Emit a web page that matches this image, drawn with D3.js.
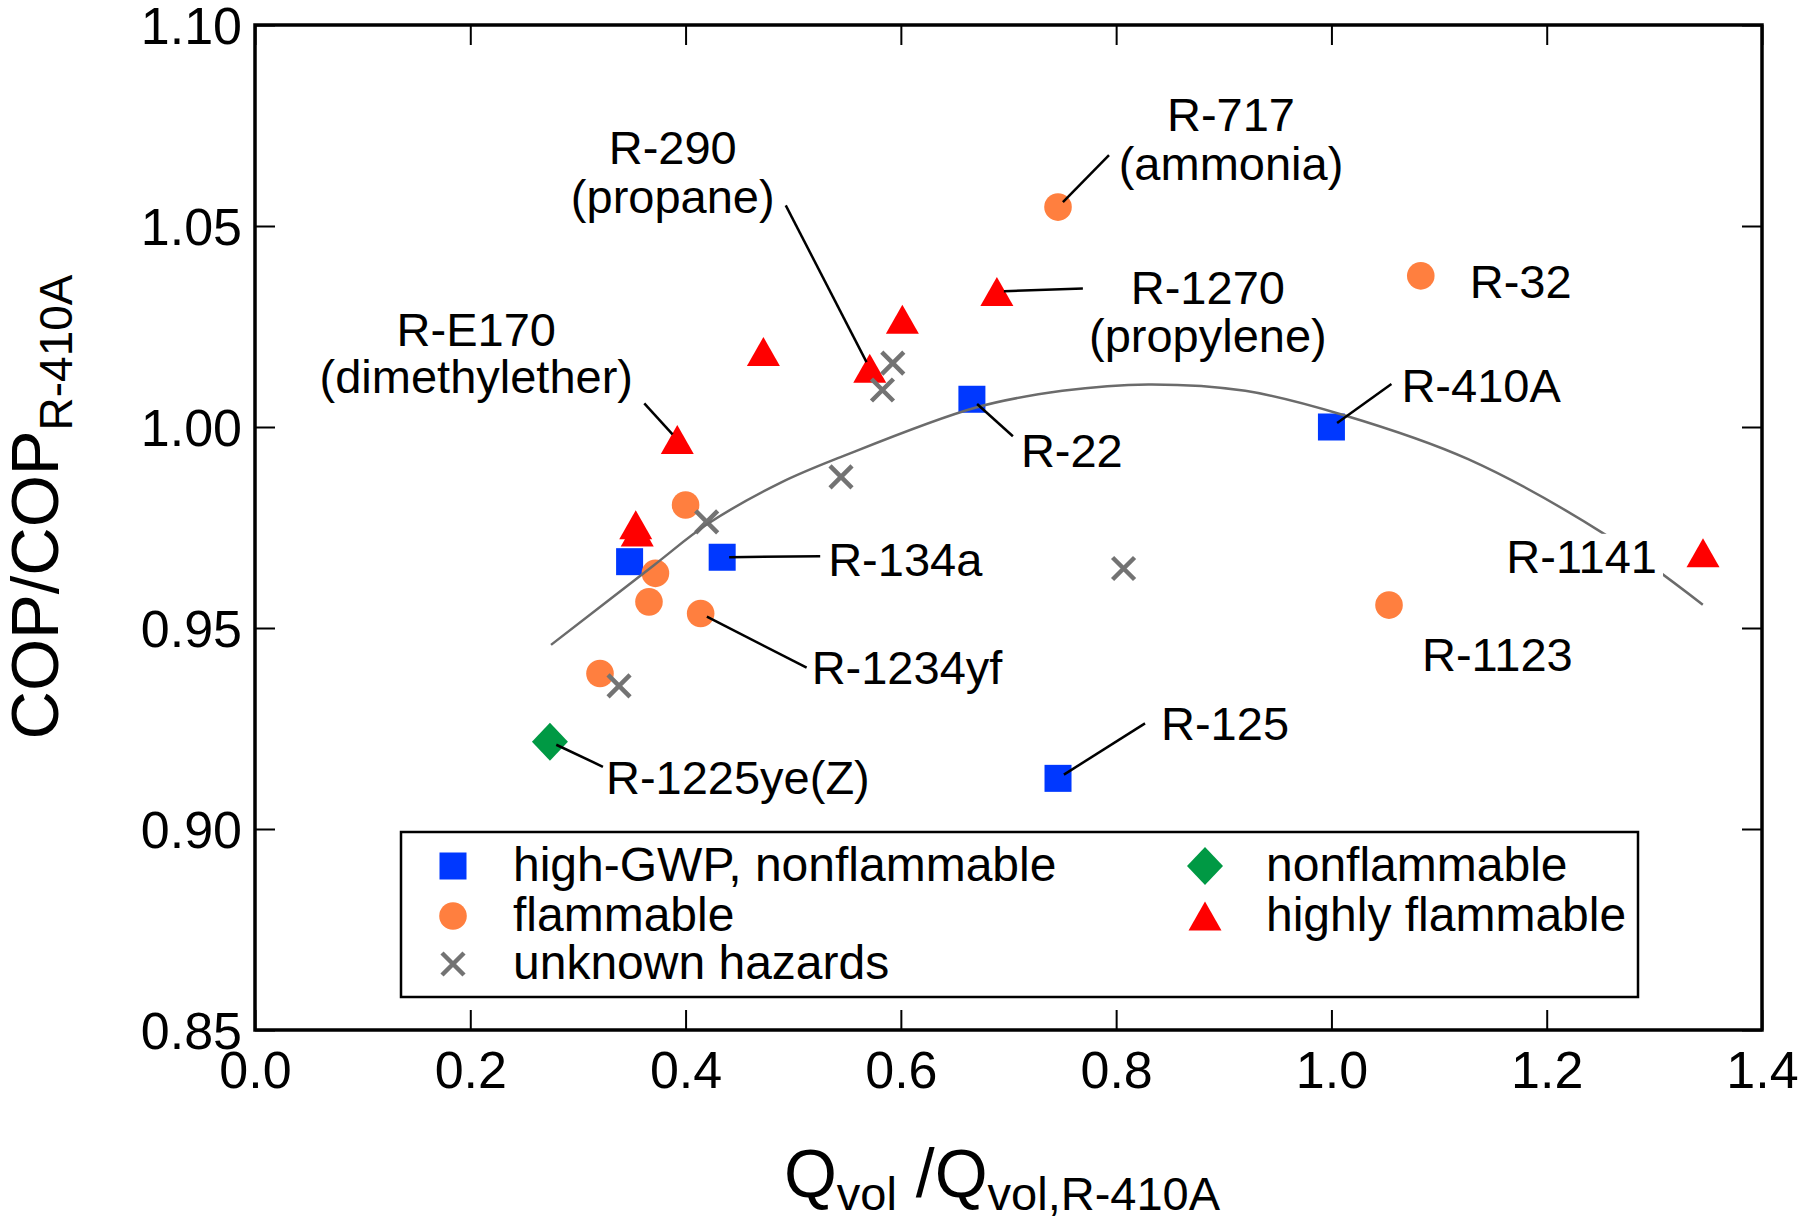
<!DOCTYPE html>
<html><head><meta charset="utf-8">
<script src="https://cdn.jsdelivr.net/npm/d3@7"></script>
<style>
body{margin:0;background:#fff;}
svg{display:block;}
text{font-family:"Liberation Sans",Arial,Helvetica,sans-serif;fill:#000;}
</style>
</head><body>
<svg id="chart" width="1800" height="1220"></svg>
<script>
// ---------- data ----------
const xTicks = [0.0, 0.2, 0.4, 0.6, 0.8, 1.0, 1.2, 1.4];
const yTicks = [0.85, 0.90, 0.95, 1.00, 1.05, 1.10];

const categories = ["high-GWP, nonflammable", "flammable", "unknown hazards", "nonflammable", "highly flammable"];

const highGwpNames = ["R-22", "R-410A", "R-134a", "", "R-125"];
const highGwpX     = [0.666, 1.000, 0.434, 0.348, 0.746];
const highGwpY     = [1.0069, 1.0000, 0.9676, 0.9665, 0.9126];

const flammableNames = ["R-717", "R-32", "", "", "", "R-1234yf", "", "R-1123"];
const flammableX     = [0.746, 1.083, 0.400, 0.372, 0.366, 0.414, 0.3205, 1.0535];
const flammableY     = [1.0547, 1.0376, 0.9806, 0.9636, 0.9565, 0.9536, 0.9387, 0.9557];

const unknownNames = ["", "", "", "", "", ""];
const unknownX     = [0.5925, 0.5829, 0.5444, 0.4196, 0.8069, 0.3382];
const unknownY     = [1.0159, 1.0092, 0.9876, 0.9764, 0.9648, 0.9356];

const nonflamNames = ["R-1225ye(Z)"];
const nonflamX     = [0.274];
const nonflamY     = [0.9217];

const highlyNames = ["R-1270", "", "", "R-290", "R-E170", "", "", "R-1141"];
const highlyX     = [0.6892, 0.6014, 0.4723, 0.5711, 0.3923, 0.3537, 0.3551, 1.3452];
const highlyY     = [1.0337, 1.0268, 1.0188, 1.0146, 0.9969, 0.9757, 0.9739, 0.9687];

// fitted trend curve
const curveX = [0.275, 0.37, 0.42, 0.488, 0.544, 0.669, 0.75, 0.83, 0.92, 1.011, 1.127, 1.257, 1.345];
const curveY = [0.9458, 0.9655, 0.9758, 0.9861, 0.9925, 1.0048, 1.0090, 1.0106, 1.0090, 1.0030, 0.9920, 0.9728, 0.9558];

// ---------- styling / layout ----------
const seriesStyle = [
  {names: highGwpNames,   xs: highGwpX,   ys: highGwpY,   type: "square",   color: "#0038ff"},
  {names: flammableNames, xs: flammableX, ys: flammableY, type: "circle",   color: "#ff7f3f"},
  {names: highlyNames,    xs: highlyX,    ys: highlyY,    type: "triangle", color: "#ff0000"},
  {names: nonflamNames,   xs: nonflamX,   ys: nonflamY,   type: "diamond",  color: "#009944"},
  {names: unknownNames,   xs: unknownX,   ys: unknownY,   type: "cross",    color: "#737373"}
];
const legendOrder = [
  {cat: 0, type: "square",   color: "#0038ff", col: 0, row: 0},
  {cat: 1, type: "circle",   color: "#ff7f3f", col: 0, row: 1},
  {cat: 2, type: "cross",    color: "#737373", col: 0, row: 2},
  {cat: 3, type: "diamond",  color: "#009944", col: 1, row: 0},
  {cat: 4, type: "triangle", color: "#ff0000", col: 1, row: 1}
];

// label offsets in pixels relative to the marked point
const annotations = [
  {name: "R-717",  lines: ["R-717", "(ammonia)"],        anchor: "middle", dx: 173, dy: [-76, -27], leader: [51, -52]},
  {name: "R-32",   lines: ["R-32"],                      anchor: "start",  dx: 49,  dy: [22]},
  {name: "R-1270", lines: ["R-1270", "(propylene)"],     anchor: "middle", dx: 211, dy: [12, 60], leader: [86, -3]},
  {name: "R-290",  lines: ["R-290", "(propane)"],        anchor: "middle", dx: -197, dy: [-204, -155], leader: [-84, -163]},
  {name: "R-E170", lines: ["R-E170", "(dimethylether)"], anchor: "middle", dx: -201, dy: [-93, -46], leader: [-33, -36]},
  {name: "R-22",   lines: ["R-22"],                      anchor: "start",  dx: 49,  dy: [68], leader: [41, 37]},
  {name: "R-410A", lines: ["R-410A"],                    anchor: "start",  dx: 70,  dy: [-25], leader: [60, -43]},
  {name: "R-134a", lines: ["R-134a"],                    anchor: "start",  dx: 106, dy: [19], leader: [98, -1]},
  {name: "R-1234yf", lines: ["R-1234yf"],                anchor: "start",  dx: 111, dy: [70], leader: [106, 54]},
  {name: "R-1225ye(Z)", lines: ["R-1225ye(Z)"],          anchor: "start",  dx: 56,  dy: [52], leader: [53, 25]},
  {name: "R-125",  lines: ["R-125"],                     anchor: "start",  dx: 103, dy: [-38], leader: [87, -55]},
  {name: "R-1141", lines: ["R-1141"],                    anchor: "end",    dx: -46, dy: [20], knockout: true},
  {name: "R-1123", lines: ["R-1123"],                    anchor: "start",  dx: 33,  dy: [66]}
];

const W = 1800, H = 1220;
const plot = {left: 255, right: 1762, top: 25, bottom: 1030};
const x = d3.scaleLinear().domain([0, 1.4]).range([plot.left, plot.right]);
const y = d3.scaleLinear().domain([0.85, 1.10]).range([plot.bottom, plot.top]);

const svg = d3.select("#chart");
svg.append("rect").attr("width", W).attr("height", H).attr("fill", "#fff");

function drawMarker(g, type, color) {
  if (type === "square") g.append("rect").attr("x", -13.5).attr("y", -13.5).attr("width", 27).attr("height", 27).attr("fill", color);
  else if (type === "circle") g.append("circle").attr("r", 13.8).attr("fill", color);
  else if (type === "cross") g.append("path").attr("d", "M-11,-11L11,11M-11,11L11,-11").attr("stroke", color).attr("stroke-width", 4.5).attr("fill", "none");
  else if (type === "diamond") g.append("path").attr("d", "M0,-19L18,0L0,19L-18,0Z").attr("fill", color);
  else if (type === "triangle") g.append("path").attr("d", "M0,-14.5L16.5,14.5L-16.5,14.5Z").attr("fill", color);
}

// points
const pointIndex = {};
const markG = svg.append("g");
seriesStyle.forEach(s => {
  s.xs.forEach((xv, i) => {
    const g = markG.append("g").attr("transform", `translate(${x(xv)},${y(s.ys[i])})`);
    drawMarker(g, s.type, s.color);
    if (s.names[i]) pointIndex[s.names[i]] = [x(xv), y(s.ys[i])];
  });
});

// trend curve
const curvePts = curveX.map((v, i) => [v, curveY[i]]);
svg.append("path").datum(curvePts)
  .attr("d", d3.line().x(d => x(d[0])).y(d => y(d[1])).curve(d3.curveCatmullRom.alpha(0.5)))
  .attr("fill", "none").attr("stroke", "#6b6b6b").attr("stroke-width", 2.5);

// annotations
const annG = svg.append("g");
annotations.forEach(a => {
  const p = pointIndex[a.name];
  if (!p) return;
  if (a.leader) {
    const ex = p[0] + a.leader[0], ey = p[1] + a.leader[1];
    const len = Math.hypot(a.leader[0], a.leader[1]);
    const gap = 7;
    annG.append("line")
      .attr("x1", p[0] + a.leader[0] / len * gap).attr("y1", p[1] + a.leader[1] / len * gap)
      .attr("x2", ex).attr("y2", ey)
      .attr("stroke", "#000").attr("stroke-width", 2.5);
  }
  const tg = annG.append("g");
  a.lines.forEach((ln, k) => tg.append("text")
    .attr("x", p[0] + a.dx).attr("y", p[1] + a.dy[k])
    .attr("text-anchor", a.anchor).style("font-size", "47px").text(ln));
  if (a.knockout) {
    const bb = tg.node().getBBox();
    tg.insert("rect", "text").attr("x", bb.x - 6).attr("y", bb.y + 4).attr("width", bb.width + 12).attr("height", bb.height - 4).attr("fill", "#fff");
  }
});

// legend
const lg = svg.append("g");
lg.append("rect").attr("x", 401).attr("y", 832).attr("width", 1237).attr("height", 165)
  .attr("fill", "#fff").attr("stroke", "#000").attr("stroke-width", 2.5);
const colMark = [453, 1205], colText = [513, 1266], rowY = [866, 916, 964];
legendOrder.forEach(e => {
  const g = lg.append("g").attr("transform", `translate(${colMark[e.col]},${rowY[e.row]})`);
  drawMarker(g, e.type, e.color);
  lg.append("text").attr("x", colText[e.col]).attr("y", rowY[e.row] + 15)
    .style("font-size", "48px").text(categories[e.cat]);
});

// axes
const fmtX = d3.format(".1f"), fmtY = d3.format(".2f");
const axB = svg.append("g").attr("transform", `translate(0,${plot.bottom})`)
  .call(d3.axisBottom(x).tickValues(xTicks).tickFormat(fmtX).tickSizeInner(-20).tickSizeOuter(0).tickPadding(21));
const axL = svg.append("g").attr("transform", `translate(${plot.left},0)`)
  .call(d3.axisLeft(y).tickValues(yTicks).tickFormat(fmtY).tickSizeInner(-20).tickSizeOuter(0).tickPadding(13));
const axT = svg.append("g").attr("transform", `translate(0,${plot.top})`)
  .call(d3.axisTop(x).tickValues(xTicks).tickFormat("").tickSizeInner(-20).tickSizeOuter(0));
const axR = svg.append("g").attr("transform", `translate(${plot.right},0)`)
  .call(d3.axisRight(y).tickValues(yTicks).tickFormat("").tickSizeInner(-20).tickSizeOuter(0));
[axB, axL, axT, axR].forEach(a => {
  a.select(".domain").remove();
  a.selectAll(".tick line").attr("stroke", "#000").attr("stroke-width", 2);
  a.selectAll(".tick text").style("font-size", "52px").attr("fill", "#000")
    .style("font-family", '"Liberation Sans",Arial,Helvetica,sans-serif');
});
axL.selectAll(".tick text").attr("dy", "0.35em");

svg.append("rect").attr("x", plot.left).attr("y", plot.top)
  .attr("width", plot.right - plot.left).attr("height", plot.bottom - plot.top)
  .attr("fill", "none").attr("stroke", "#000").attr("stroke-width", 3.5);

// axis titles
svg.append("text").attr("x", 1002).attr("y", 1197).attr("text-anchor", "middle")
  .style("font-size", "68px").style("white-space", "pre")
  .call(t => {
    t.append("tspan").text("Q");
    t.append("tspan").attr("dy", 13).style("font-size", "47px").text("vol");
    t.append("tspan").attr("dy", -13).text(" /Q");
    t.append("tspan").attr("dy", 13).style("font-size", "47px").text("vol,R-410A");
  });
svg.append("text").attr("transform", "translate(58,507) rotate(-90)").attr("text-anchor", "middle")
  .style("font-size", "67px")
  .call(t => {
    t.append("tspan").text("COP/COP");
    t.append("tspan").attr("dy", 14).style("font-size", "46px").text("R-410A");
  });
</script>
</body></html>
